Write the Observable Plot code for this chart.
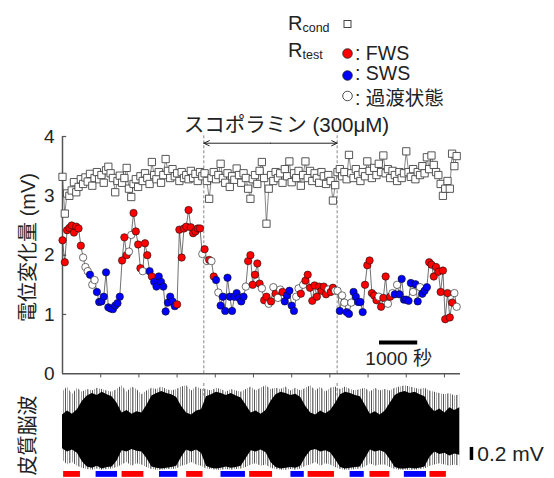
<!DOCTYPE html>
<html><head><meta charset="utf-8">
<script src="https://cdn.jsdelivr.net/npm/d3@7"></script>
<script src="https://cdn.jsdelivr.net/npm/@observablehq/plot@0.6"></script>
<style>
body{margin:0;background:#fff;}
#wrap{position:relative;width:554px;height:478px;overflow:hidden;font-family:"Liberation Sans","Noto Sans CJK JP",sans-serif;}
#wrap > svg{position:absolute;left:0;}
</style></head><body><div id="wrap"></div>
<script>
// sampling interval of the test pulses (s)
const dt = 60;
// R_cond amplitudes (mV)
const rcond = [3.32,2.70,3.04,3.00,3.09,3.23,3.06,3.15,3.28,3.20,
3.31,3.24,3.37,3.17,3.30,3.40,3.28,3.35,3.22,3.43,
3.49,3.38,3.30,3.06,3.25,3.34,3.22,3.30,3.47,3.12,
2.98,3.20,3.28,3.15,3.33,3.25,3.38,3.30,3.20,3.57,
3.35,3.28,3.40,3.22,3.35,3.62,3.42,3.30,3.45,3.33,
3.38,3.25,3.40,3.30,3.35,3.28,3.42,3.30,3.37,3.25,
3.40,3.33,3.38,3.25,2.95,3.30,3.40,3.28,3.35,3.54,
3.30,3.22,3.38,3.15,3.33,3.27,3.46,3.35,3.22,3.38,
3.30,3.12,2.95,3.28,3.35,3.20,3.42,3.57,3.30,2.53,
3.12,3.35,3.25,3.40,3.30,3.38,3.22,3.45,3.33,3.58,
3.23,3.38,3.30,3.42,3.17,3.35,3.58,3.30,3.42,3.25,
3.38,3.30,3.22,3.40,3.33,3.20,3.35,3.25,2.92,3.18,
3.40,3.45,3.33,3.40,3.28,3.69,3.38,3.30,3.45,3.35,
3.25,3.40,3.33,3.58,3.42,3.30,3.47,3.35,3.54,3.40,
3.68,3.38,3.45,3.30,3.42,3.35,3.25,3.40,3.30,3.38,
3.75,3.40,3.32,3.45,3.28,3.40,3.35,3.50,3.38,3.65,
3.45,3.68,3.52,3.40,3.35,3.20,3.00,3.12,3.25,3.12,
3.71,3.50,3.67];
// R_test amplitudes (mV)
const rtest = [2.25,1.88,2.42,2.46,2.50, 2.38,2.48,2.45,2.16,1.96,
1.80,1.73,1.67,1.50,1.58, 1.38,1.21,1.22,1.30,1.71,
1.12,1.10,1.09,1.15,1.19, 1.30,1.91,2.30,2.00,2.06,
2.34,2.71,2.40,2.18,1.78, 1.73,2.20,2.00,1.73,1.64,
1.55,1.47,1.64,1.55,1.47, 1.05,1.20,1.30,1.22,1.14,
1.17,2.43,1.96,2.45,2.48, 2.76,2.47,2.37,2.40,2.45,
2.45,2.02,2.10,1.90,1.92, 1.90,1.64,1.58,1.37,1.15,
1.30,1.06,1.62,1.30,1.06, 1.30,1.36,1.28,1.22,1.30,
1.47,1.90,2.00,1.50,1.67, 1.86,1.52,1.44,1.24,1.30,
1.18,1.22,1.46,1.35,1.28, 1.42,1.38,1.22,1.32,1.40,
1.15,1.06,1.30,1.44,1.35, 1.50,1.57,1.67,1.45,1.23,
1.49,1.30,1.47,1.40,1.47, 1.34,1.42,1.38,1.45,1.40,
1.40,1.06,1.32,1.20,1.04, 1.01,1.20,1.38,1.30,1.21,
1.21,1.04,1.50,1.83,1.91, 1.36,1.32,1.24,1.30,1.13,
1.28,1.64,1.18,1.30,1.36, 1.34,1.50,1.34,1.60,1.25,
1.25,1.23,1.53,1.38,1.51, 1.22,1.46,1.35,1.40,1.46,
1.88,1.84,1.64,1.80,1.72, 1.38,1.74,0.92,1.36,0.95,
1.20,1.36,1.13];
// state of each R_test sample: F = FWS, S = SWS, T = 過渡状態
const rtestState = ("FFFFF FFFFT TTSTT SSSSS SSSSS SFFFT TFFFF TFFSF SSSSS SSSSS " +
"FFFFF FFFFF FTFTF TFSTS SSSSS SSSSS TFFFF FFTFF TFTFT TFSSS SSTTF TFFFF " +
"FFFFF FTFFT TSTTS STSSS SSFFF FFFTF FFTFT STSSS SSSTS STSSS FFFFF FFFFF FTT").replace(/ /g,"").split("");
const stateColors = {F: "#ff0000", S: "#0000ff", T: "#ffffff"};
// scopolamine application window (s)
const drugWindow = [3700, 7190];
const drugLabel = "スコポラミン (300μM)";
const yTicks = [0, 1, 2, 3, 4];
const xTicks = [1000,2000,3000,4000,5000,6000,7000,8000,9000,10000];
// EEG envelope (mV), one value every eegDt seconds: dense-core upper/lower, spike upper/lower
const eegDt = 130;
const eegHi = [0.27,0.33,0.28,0.35,0.48,0.56,0.60,0.57,0.62,0.58,0.55,0.45,0.30,0.34,0.28,0.32,0.30,0.42,0.56,0.60,
0.63,0.60,0.58,0.54,0.40,0.30,0.27,0.33,0.35,0.55,0.58,0.62,0.60,0.57,0.60,0.56,0.53,0.42,0.30,0.33,
0.28,0.34,0.48,0.58,0.62,0.60,0.57,0.59,0.54,0.40,0.30,0.27,0.33,0.29,0.34,0.45,0.58,0.62,0.60,0.57,
0.55,0.42,0.28,0.32,0.27,0.33,0.45,0.57,0.61,0.63,0.60,0.62,0.58,0.55,0.40,0.32,0.36,0.30,0.38,0.34,0.38];
const eegLo = [-0.25,-0.30,-0.27,-0.32,-0.45,-0.53,-0.55,-0.52,-0.56,-0.54,-0.53,-0.44,-0.28,-0.30,-0.26,-0.29,-0.30,-0.40,-0.53,-0.55,
-0.56,-0.55,-0.54,-0.52,-0.38,-0.27,-0.30,-0.27,-0.32,-0.52,-0.55,-0.56,-0.55,-0.53,-0.55,-0.54,-0.52,-0.40,-0.28,-0.30,
-0.27,-0.31,-0.46,-0.54,-0.56,-0.55,-0.54,-0.55,-0.52,-0.38,-0.28,-0.26,-0.30,-0.28,-0.31,-0.42,-0.54,-0.56,-0.55,-0.54,
-0.53,-0.40,-0.27,-0.30,-0.28,-0.31,-0.42,-0.54,-0.56,-0.56,-0.55,-0.56,-0.55,-0.53,-0.38,-0.30,-0.34,-0.32,-0.36,-0.33,-0.35];
const spikeHi = [0.62,0.70,0.58,0.68,0.62,0.66,0.64,0.68,0.66,0.64,0.62,0.66,0.72,0.62,0.70,0.66,0.58,0.64,0.68,0.66,
0.70,0.66,0.64,0.66,0.70,0.72,0.64,0.70,0.66,0.66,0.64,0.68,0.66,0.62,0.66,0.64,0.62,0.66,0.70,0.64,
0.68,0.72,0.66,0.68,0.66,0.70,0.64,0.68,0.64,0.68,0.72,0.64,0.70,0.62,0.68,0.70,0.66,0.70,0.66,0.64,
0.66,0.68,0.62,0.68,0.64,0.66,0.64,0.68,0.70,0.72,0.70,0.68,0.66,0.68,0.64,0.62,0.60,0.58,0.60,0.56,0.58];
const spikeLo = [-0.42,-0.50,-0.46,-0.52,-0.55,-0.57,-0.58,-0.56,-0.58,-0.57,-0.56,-0.54,-0.50,-0.46,-0.52,-0.48,-0.50,-0.54,-0.57,-0.58,
-0.58,-0.57,-0.57,-0.56,-0.52,-0.50,-0.46,-0.50,-0.52,-0.56,-0.57,-0.58,-0.58,-0.57,-0.58,-0.57,-0.56,-0.54,-0.50,-0.48,
-0.52,-0.50,-0.55,-0.57,-0.58,-0.58,-0.57,-0.58,-0.56,-0.52,-0.50,-0.46,-0.52,-0.48,-0.50,-0.54,-0.57,-0.58,-0.58,-0.57,
-0.56,-0.53,-0.48,-0.52,-0.50,-0.50,-0.54,-0.57,-0.58,-0.58,-0.58,-0.58,-0.57,-0.56,-0.52,-0.50,-0.48,-0.50,-0.52,-0.50,-0.52];
// sleep-state bars under EEG (s)
const barStart = [30, 880, 1560, 2540, 3250, 4150, 4900, 5980, 6430, 7530, 8050, 8950, 9620];
const barEnd   = [470,1440,2130, 3020, 3680, 4790, 5500, 6330, 7120, 7900, 8570, 9530, 10050];
const barState = ["F","S","F","S","F","S","F","S","F","S","F","S","F"];

const FONT = '"Liberation Sans","Noto Sans CJK JP",sans-serif';
const xMax = 10420;
const wrap = document.getElementById("wrap");

// ---------- legend ----------
const leg = d3.select(wrap).append("svg").attr("width",554).attr("height",108).style("top","0px")
  .style("font-family",FONT).attr("fill","#222");
const t1 = leg.append("text").attr("x",288).attr("y",30).attr("font-size",20);
t1.append("tspan").text("R");
t1.append("tspan").attr("font-size",12.5).attr("dy",2).text("cond");
leg.append("rect").attr("x",344).attr("y",20.5).attr("width",7).attr("height",7).attr("fill","white").attr("stroke","#444");
const t2 = leg.append("text").attr("x",288).attr("y",57).attr("font-size",20);
t2.append("tspan").text("R");
t2.append("tspan").attr("font-size",12.5).attr("dy",2).text("test");
const legRows = [["F",53.5,": FWS",59.5],["S",75.5,": SWS",79.5],["T",96,": 過渡状態",104.5]];
for (const [s,cy,lab,by] of legRows) {
  leg.append("circle").attr("cx",347.5).attr("cy",cy).attr("r",4.8).attr("fill",stateColors[s]).attr("stroke","#222").attr("stroke-width",0.8);
  leg.append("text").attr("x",355).attr("y",by).attr("font-size",19.5).text(lab);
}

// ---------- main chart ----------
const rcondData = rcond.map((v,i)=>({t:i*dt, v}));
const rtestData = rtest.map((v,i)=>({t:i*dt, v, c: stateColors[rtestState[i]]}));
const axisColor = "#555";
const main = Plot.plot({
  width: 554, height: 278,
  marginLeft: 62, marginRight: 554-460, marginTop: 31, marginBottom: 9.7,
  style: {fontFamily: FONT, background: "transparent", overflow: "visible"},
  x: {domain: [0, xMax], axis: null},
  y: {domain: [0, 4], axis: null},
  color: {type: "identity"},
  marks: [
    Plot.ruleX(drugWindow, {y1: 0, y2: 4.05, stroke: "#777", strokeWidth: 0.9, strokeDasharray: "3,2"}),
    Plot.ruleX([0], {y1: 0, y2: 4, stroke: axisColor, strokeWidth: 1.5}),
    Plot.ruleY([0], {x1: 0, x2: xMax, stroke: axisColor, strokeWidth: 1.5}),
    Plot.ruleY(yTicks.filter(d=>d>0), {x1: 0, x2: 110, stroke: axisColor, strokeWidth: 1.2}),
    Plot.ruleX(xTicks, {y1: 0, y2: -0.07, stroke: axisColor, strokeWidth: 1}),
    Plot.text(yTicks, {x: 0, y: d=>d, text: d=>String(d), textAnchor: "end", dx: -8, fontSize: 19, fill: "#222"}),
    Plot.text(["電位変化量 (mV)"], {x: 0, y: 2.13, dx: -34, rotate: -90, fontSize: 20, fill: "#222"}),
    Plot.line(rcondData, {x: "t", y: "v", stroke: "#555", strokeWidth: 0.7}),
    Plot.dot(rcondData, {x: "t", y: "v", symbol: "square", r: 4.1, fill: "white", stroke: "#444", strokeWidth: 0.9}),
    Plot.line(rtestData, {x: "t", y: "v", stroke: "#333", strokeWidth: 0.7}),
    Plot.dot(rtestData, {x: "t", y: "v", r: 3.7, fill: "c", stroke: "#111", strokeWidth: 0.6}),
    Plot.arrow([{a: (drugWindow[0]+drugWindow[1])/2, b: drugWindow[0]}, {a: (drugWindow[0]+drugWindow[1])/2, b: drugWindow[1]}],
      {x1: "a", x2: "b", y1: 3.887, y2: 3.887, stroke: "#222", strokeWidth: 1, headLength: 9, headAngle: 50}),
    Plot.text([drugLabel], {x: 5864, y: 4.19, fontSize: 20.5, fill: "#222"}),
    Plot.ruleY([0.527], {x1: 8300, x2: 9300, stroke: "black", strokeWidth: 4}),
    Plot.text(["1000 秒"], {x: 8800, y: 0.25, fontSize: 19, fill: "#222"})
  ]
});
main.style.top = "105px";
wrap.appendChild(main);

// ---------- EEG panel ----------
const eegData = eegHi.map((h,i)=>({t: i*eegDt, hi: h, lo: eegLo[i], sh: spikeHi[i], sl: spikeLo[i]}));
const bars = barStart.map((s,i)=>({s, e: barEnd[i], c: stateColors[barState[i]]}));
const eeg = Plot.plot({
  width: 554, height: 95,
  marginLeft: 62, marginRight: 554-460, marginTop: 0, marginBottom: 0,
  style: {fontFamily: FONT, background: "transparent", overflow: "visible"},
  x: {domain: [0, xMax], axis: null},
  y: {domain: [-0.708, 0.754], axis: null},
  color: {type: "identity"},
  marks: [
    Plot.areaY(eegData, {x: "t", y1: "sl", y2: "sh", fill: "url(#spk)"}),
    Plot.areaY(eegData, {x: "t", y1: "lo", y2: "hi", fill: "black"}),
    Plot.ruleX(drugWindow, {y1: 0.754, y2: 0.56, stroke: "#777", strokeWidth: 0.9, strokeDasharray: "3,2"}),
    Plot.rect(bars, {x1: "s", x2: "e", y1: -0.60, y2: -0.69, fill: "c"}),
    Plot.ruleX([10707], {y1: -0.23, y2: -0.43, stroke: "black", strokeWidth: 3.5}),
    Plot.text(["0.2 mV"], {x: 10860, y: -0.33, textAnchor: "start", fontSize: 21, fill: "#222"}),
    Plot.text(["皮質脳波"], {x: 0, y: -0.046, dx: -34, rotate: -90, fontSize: 20, fill: "#222"})
  ]
});
d3.select(eeg).insert("defs", ":first-child").html(
  '<pattern id="spk" width="9" height="6" patternUnits="userSpaceOnUse">' +
  '<rect x="0" width="1" height="6" fill="#999"/><rect x="2" width="1" height="6" fill="#555"/>' +
  '<rect x="4" width="1" height="6" fill="#aaa"/><rect x="6" width="1.5" height="6" fill="#777"/></pattern>');
eeg.style.top = "383px";
wrap.appendChild(eeg);
</script></body></html>
